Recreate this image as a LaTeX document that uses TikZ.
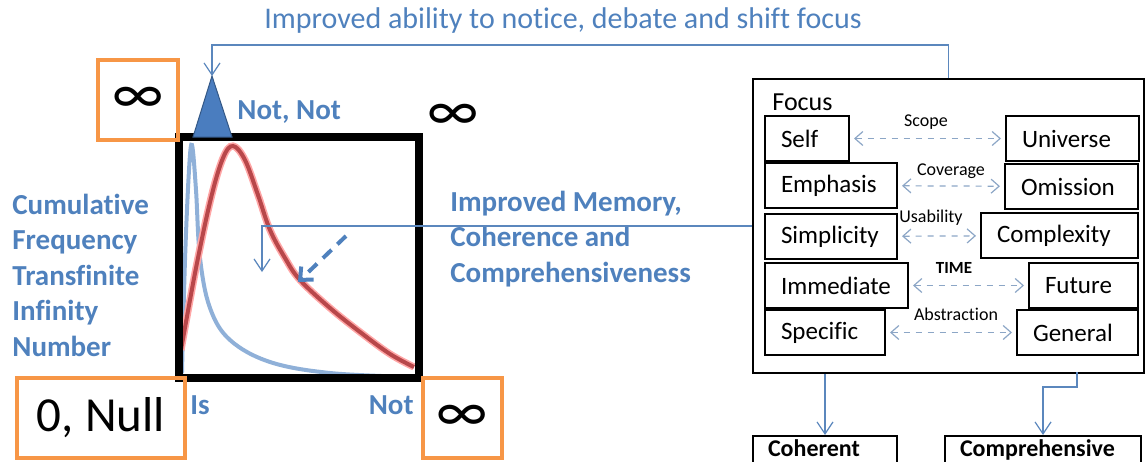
\documentclass[tikz,border=0pt]{standalone}
\usepackage{fontspec}
\setmainfont{Carlito}[Ligatures=NoCommon]
\usetikzlibrary{arrows.meta,positioning,calc}
\definecolor{txtblue}{HTML}{4F81BD}
\definecolor{lineblue}{HTML}{5B87BD}
\definecolor{curveblue}{HTML}{8FB0D8}
\definecolor{curvered}{HTML}{B8474A}
\definecolor{boxorange}{HTML}{F79646}
\definecolor{arrgray}{HTML}{8CA6C6}
\definecolor{triblue}{HTML}{4A7DBF}
\tikzset{
  bluetxt/.style={text=txtblue,font=\bfseries\fontsize{14.5}{17.75}\selectfont,inner sep=0pt,align=left},
  infbox/.style={draw=boxorange,line width=2pt},
  infsym/.style={font=\fontsize{30}{30}\selectfont,inner sep=0pt},
  fbox/.style={draw,line width=1pt,anchor=north west,align=left,inner xsep=8pt,minimum height=22.5pt,font=\fontsize{12.5}{14}\selectfont},
  outbox/.style={draw,line width=1pt,anchor=north west,align=left,inner xsep=7.5pt,inner ysep=2pt,text depth=10pt,font=\bfseries\fontsize{12}{14}\selectfont},
  axlbl/.style={font=\fontsize{9}{10}\selectfont,inner sep=0pt},
  dblarr/.style={{Straight Barb[length=4pt,width=7pt]}-{Straight Barb[length=4pt,width=7pt]},dashed,draw=arrgray,line width=0.6pt,shorten <=2pt,shorten >=2pt},
  conn/.style={draw=lineblue,line width=0.6pt},
  connarr/.style={conn,-{Straight Barb[length=6pt,width=8pt]}}
}
\begin{document}
\begin{tikzpicture}[x=0.5pt,y=-0.5pt]
  \useasboundingbox (0,0) rectangle (1145,461);

  % curves inside the square
  \draw[curveblue,line width=2pt,line cap=round] plot[smooth,tension=0.6] coordinates
    {(182,372) (185,260) (189,170) (192,145) (196,190) (200,258) (210,308) (230,340) (270,362) (330,373) (412,377)};
  \draw[red!35,line width=3.6pt] plot[smooth,tension=0.6] coordinates
    {(181,350) (196,268) (211,198) (223,158) (233,146) (245,160) (258,195) (270,230) (285,258) (300,280) (330,308) (360,332) (390,354) (414,367)};
  \draw[curvered,line width=2pt] plot[smooth,tension=0.6] coordinates
    {(181,350) (196,268) (211,198) (223,158) (233,146) (245,160) (258,195) (270,230) (285,258) (300,280) (330,308) (360,332) (390,354) (414,367)};

  \node[draw,line width=4pt,minimum width=120pt,minimum height=120.5pt] (sq) at (299,257.5) {};
  \filldraw[fill=triblue,draw=triblue!70!black,line width=0.5pt] (193,137) -- (212,76) -- (232,137) -- cycle;
  \coordinate (apex) at (212,76);

  % orange boxes
  \node[infbox,minimum width=40pt,minimum height=40pt] (inftl) at (138,100) {};
  \node[infsym] at (inftl) {∞};
  \node[infbox,minimum width=84pt,minimum height=40pt,font=\fontsize{24.5}{26}\selectfont] (null) at (101,418) {0, Null};
  \node[infbox,minimum width=39.5pt,minimum height=40pt] (infbr) at (462.5,418) {};
  \node[infsym] at (infbr) {∞};
  \node[infsym] (inftr) at (453.5,117) {∞};

  % labels round the square
  \node[bluetxt,font=\fontsize{15}{16}\selectfont] (title) at (563,20) {Improved ability to notice, debate and shift focus};
  \node[bluetxt,anchor=west] (notnot) at (237,112) {Not, Not};
  \node[bluetxt,anchor=west] (cumul) at (12,275) {Cumulative\\Frequency\\Transfinite\\Infinity\\Number};
  \node[bluetxt,anchor=west] (memory) at (450,239) {Improved Memory,\\Coherence and\\Comprehensiveness};
  \node[bluetxt,anchor=west] (is) at (190,405) {Is};
  \node[bluetxt,anchor=east] (notx) at (414,405) {Not};

  % focus panel
  \node[draw,line width=1pt,anchor=north west,minimum width=195.5pt,minimum height=147pt] (focus) at (752,78) {};
  \node[anchor=west,inner sep=0pt,font=\fontsize{13}{14}\selectfont] (focuslbl) at (772,102) {Focus};
  \node[fbox,text width=26pt] (self) at (764,115) {Self};
  \node[fbox,text width=50.5pt] (univ) at (1005,115) {Universe};
  \node[fbox,text width=50pt] (emph) at (764,162) {Emphasis};
  \node[fbox,text width=50.5pt] (omis) at (1004,163) {Omission};
  \node[fbox,text width=50pt] (simp) at (764,213) {Simplicity};
  \node[fbox,text width=62.5pt] (cplx) at (980,212) {Complexity};
  \node[fbox,text width=55.5pt] (imm) at (764,262) {Immediate};
  \node[fbox,text width=38.5pt] (fut) at (1028,262) {Future};
  \node[fbox,text width=44pt] (spec) at (764,309) {Specific};
  \node[fbox,text width=44.5pt] (gen) at (1016,309) {General};

  \draw[dblarr] (self) -- (univ);
  \draw[dblarr] (emph) -- (omis);
  \draw[dblarr] (simp) -- (cplx);
  \draw[dblarr] (imm) -- (fut);
  \draw[dblarr] (spec) -- (gen);
  \node[axlbl] at (926,122) {Scope};
  \node[axlbl] at (951,171) {Coverage};
  \node[axlbl] at (931,218) {Usability};
  \node[axlbl,font=\bfseries\fontsize{8.5}{10}\selectfont] at (954,268) {TIME};
  \node[axlbl] at (956,314) {Abstraction};

  \node[outbox,text width=57pt] (coh) at (752,435) {Coherent};
  \node[outbox,text width=83pt] (comp) at (944,435) {Comprehensive};

  % connectors
  \draw[connarr] (focus.north) -- ++(0,-33) -| (apex);
  \coordinate (memend) at (262,272);
  \draw[connarr] (focus.west) -| (memend);
  \draw[connarr] (coh.north |- focus.south) -- (coh.north);
  \coordinate (compsrc) at (1077,372);
  \draw[connarr] (compsrc) -- ++(0,15) -| (comp.north);
  \coordinate (dashs) at (346,236);
  \coordinate (dashe) at (298,282);
  \draw[txtblue,line width=2pt,dashed,dash pattern=on 6pt off 4pt,-{Straight Barb[length=5pt,width=9pt]}] (dashs) -- (dashe);
\end{tikzpicture}
\end{document}
